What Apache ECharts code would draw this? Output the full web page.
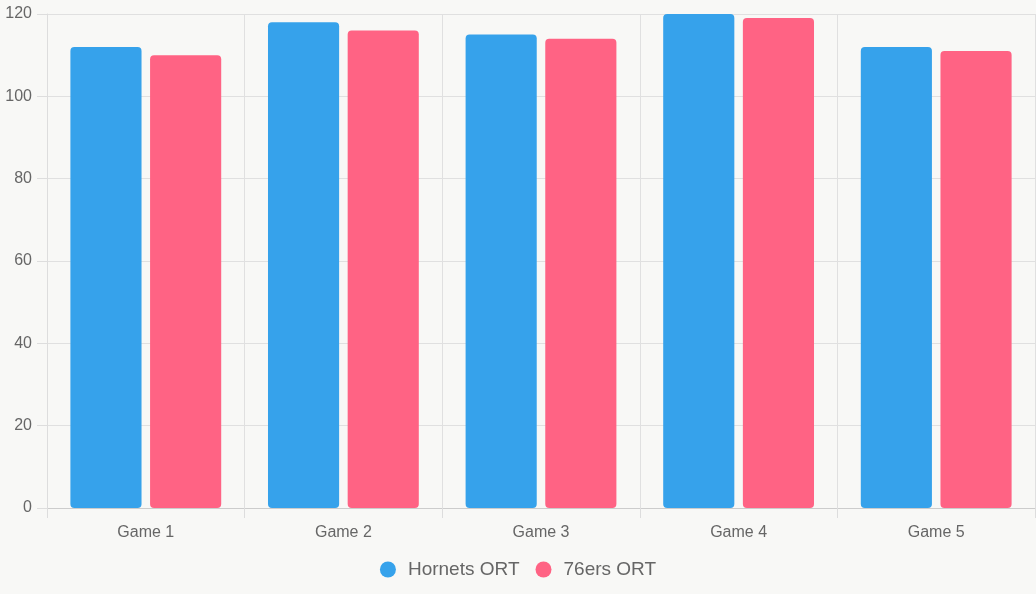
<!DOCTYPE html>
<html>
<head>
<meta charset="utf-8">
<script src="https://cdn.jsdelivr.net/npm/echarts@6/dist/echarts.min.js"></script>
<style>
    html, body { margin: 0; padding: 0; background: #f8f8f6; }
    #main { width: 1036px; height: 594px; }
</style>
</head>
<body>
<div id="main"></div>
<script>
var games = ['Game 1', 'Game 2', 'Game 3', 'Game 4', 'Game 5']
var hornets = [112, 118, 115, 120, 112] //Hornets ORT
var sixers = [110, 116, 114, 119, 111] //76ers ORT

var chart = echarts.init(document.getElementById('main'))

var font = 'Arial, "Liberation Sans", sans-serif'

option = {
    backgroundColor: '#f8f8f6',
    animation: false,
    textStyle: { fontFamily: font },
    grid: { left: 47, right: 1, top: 14, bottom: 86 },
    legend: {
        bottom: 10,
        left: 'center',
        icon: 'circle',
        itemWidth: 16,
        itemHeight: 16,
        itemGap: 16,
        textStyle: { color: '#666', fontSize: 19, fontFamily: font, padding: [0, 0, 0, 7] },
        data: ['Hornets ORT', '76ers ORT']
    },
    xAxis: {
        type: 'category',
        data: games,
        axisLine: { lineStyle: { color: '#ccc' } },
        axisTick: { show: true, length: 10, lineStyle: { color: '#ddd' } },
        axisLabel: { color: '#666', fontSize: 16, margin: 17 },
        splitLine: { show: true, lineStyle: { color: '#e0e0e0' } }
    },
    yAxis: {
        type: 'value',
        min: 0,
        max: 120,
        interval: 20,
        axisLine: { show: true, lineStyle: { color: '#ddd' } },
        axisTick: { show: true, length: 10, lineStyle: { color: '#ddd' } },
        axisLabel: { color: '#666', fontSize: 16, margin: 15 },
        splitLine: { lineStyle: { color: '#e0e0e0' } }
    },
    series: [
        {
            name: 'Hornets ORT',
            type: 'bar',
            data: hornets,
            barWidth: '36%',
            barGap: '12%',
            itemStyle: { color: '#36A2EB', borderRadius: 4 }
        },
        {
            name: '76ers ORT',
            type: 'bar',
            data: sixers,
            barWidth: '36%',
            itemStyle: { color: '#FF6384', borderRadius: 4 }
        }
    ]
}

chart.setOption(option)
</script>
</body>
</html>
